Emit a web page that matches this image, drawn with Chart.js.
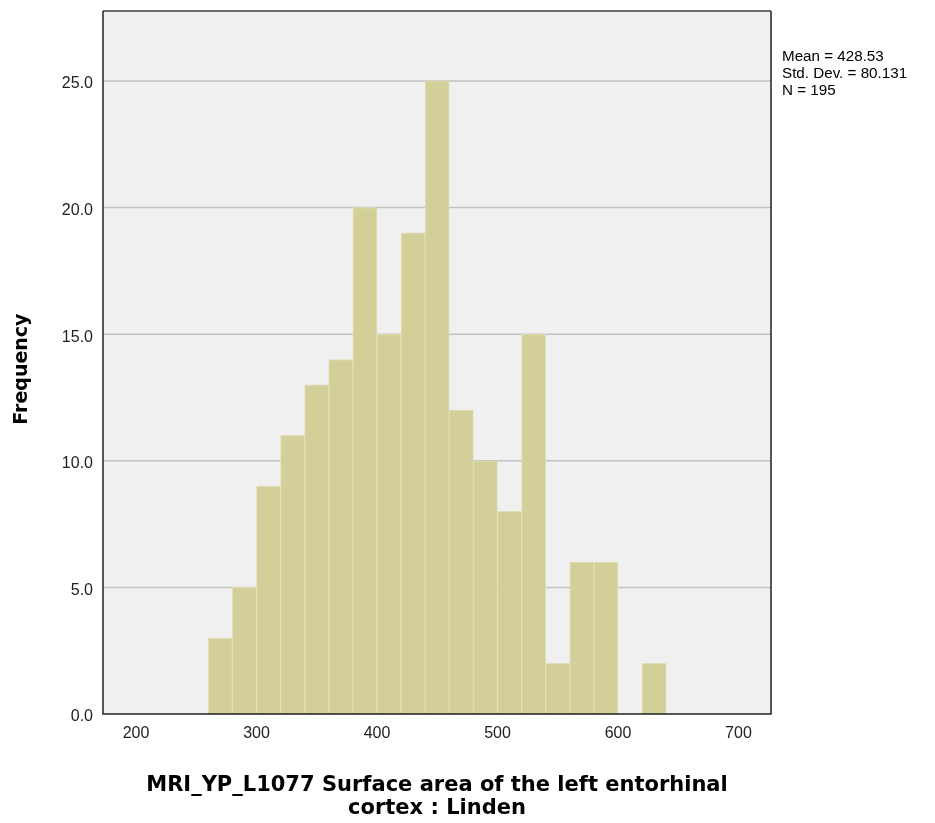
<!DOCTYPE html>
<html>
<head>
<meta charset="utf-8">
<script src="https://cdn.jsdelivr.net/npm/chart.js@4"></script>
<style>
  html, body { margin: 0; padding: 0; background: #fff; }
  #wrap { width: 935px; height: 823px; }
</style>
</head>
<body>
<div id="wrap"><canvas id="hist" width="935" height="823"></canvas></div>
<script>
// histogram bins (centre of each 20-wide bin) and counts
var binCenters = [270, 290, 310, 330, 350, 370, 390, 410, 430, 450, 470, 490, 510, 530, 550, 570, 590, 610, 630];
var counts     = [3, 5, 9, 11, 13, 14, 20, 15, 19, 25, 12, 10, 8, 15, 2, 6, 6, 0, 2];
var xTicks = [200, 300, 400, 500, 600, 700];
var yTicks = [0, 5, 10, 15, 20, 25];
var stats = ["Mean = 428.53", "Std. Dev. = 80.131", "N = 195"];
var xTitle = ["MRI_YP_L1077 Surface area of the left entorhinal", "cortex : Linden"];
var yTitle = "Frequency  ";

var points = binCenters.map(function (c, i) { return { x: c, y: counts[i] }; });

var plotBox = {
    id: 'plotBox',
    beforeDatasetsDraw: function (chart) {
        var a = chart.chartArea, ctx = chart.ctx;
        ctx.save();
        ctx.fillStyle = '#f0f0f0';
        ctx.fillRect(a.left, a.top, a.right - a.left, a.bottom - a.top);
        // horizontal grid lines
        var ys = chart.scales.y;
        ctx.strokeStyle = '#c2c2c2';
        ctx.lineWidth = 1.5;
        yTicks.forEach(function (v) {
            if (v === 0) return;
            var py = ys.getPixelForValue(v);
            ctx.beginPath();
            ctx.moveTo(a.left, py);
            ctx.lineTo(a.right, py);
            ctx.stroke();
        });
        ctx.restore();
    },
    afterDraw: function (chart) {
        var a = chart.chartArea, ctx = chart.ctx;
        ctx.save();
        ctx.strokeStyle = '#6e6e6e';
        ctx.lineWidth = 2;
        ctx.beginPath();
        ctx.moveTo(a.left, a.top);
        ctx.lineTo(a.right, a.top);
        ctx.stroke();
        ctx.strokeStyle = '#222';
        ctx.lineWidth = 1.5;
        ctx.beginPath();
        ctx.moveTo(a.right, a.top);
        ctx.lineTo(a.right, a.bottom);
        ctx.lineTo(a.left, a.bottom);
        ctx.lineTo(a.left, a.top);
        ctx.stroke();
        // summary statistics
        ctx.fillStyle = '#000';
        ctx.font = '15.2px "Liberation Sans", Arial, sans-serif';
        ctx.textBaseline = 'middle';
        ctx.textAlign = 'left';
        stats.forEach(function (s, i) {
            ctx.fillText(s, a.right + 11, 56.5 + i * 17);
        });
        ctx.restore();
    }
};

var chartHist = new Chart(document.getElementById("hist"), {
    type: 'bar',
    data: {
        datasets: [{
            label: "Frequency",
            data: points,
            backgroundColor: '#d3cf99',
            borderColor: '#e2dfb6',
            borderWidth: 1,
            barPercentage: 1.0,
            categoryPercentage: 1.0,
            grouped: false
        }]
    },
    options: {
        responsive: false,
        animation: false,
        layout: {
            padding: { top: 11, right: 164, bottom: 0, left: 0 }
        },
        plugins: {
            legend: { display: false },
            tooltip: { enabled: false }
        },
        scales: {
            x: {
                type: 'linear',
                offset: false,
                min: 172.6,
                max: 727,
                grid: { display: false, drawTicks: false },
                border: { display: false },
                afterBuildTicks: function (scale) {
                    scale.ticks = xTicks.map(function (v) { return { value: v }; });
                },
                afterFit: function (scale) {
                    scale.height = 109;
                    scale.paddingLeft = 0;
                    scale.paddingRight = 0;
                },
                ticks: {
                    padding: 10,
                    color: '#222',
                    font: { family: '"Liberation Sans", Arial, sans-serif', size: 16 },
                    maxRotation: 0,
                    callback: function (v) { return v; }
                },
                title: {
                    display: true,
                    text: xTitle,
                    color: '#000',
                    font: { family: '"DejaVu Sans", Verdana, sans-serif', size: 21, weight: 'bold', lineHeight: 1.08 },
                    padding: { top: 0, bottom: 3 }
                }
            },
            y: {
                min: 0,
                max: 27.76,
                grid: { display: false, drawTicks: false },
                border: { display: false },
                afterBuildTicks: function (scale) {
                    scale.ticks = yTicks.map(function (v) { return { value: v }; });
                },
                afterFit: function (scale) {
                    scale.width = 103;
                    scale.paddingTop = 0;
                    scale.paddingBottom = 0;
                },
                ticks: {
                    padding: 10,
                    labelOffset: 3,
                    color: '#222',
                    font: { family: '"Liberation Sans", Arial, sans-serif', size: 16 },
                    callback: function (v) { return Number(v).toFixed(1); }
                },
                title: {
                    display: true,
                    text: yTitle,
                    color: '#000',
                    font: { family: '"DejaVu Sans", Verdana, sans-serif', size: 19, weight: 'bold', lineHeight: 1.2 },
                    padding: { top: 10.6, bottom: 0 }
                }
            }
        }
    },
    plugins: [plotBox]
});
</script>
</body>
</html>
